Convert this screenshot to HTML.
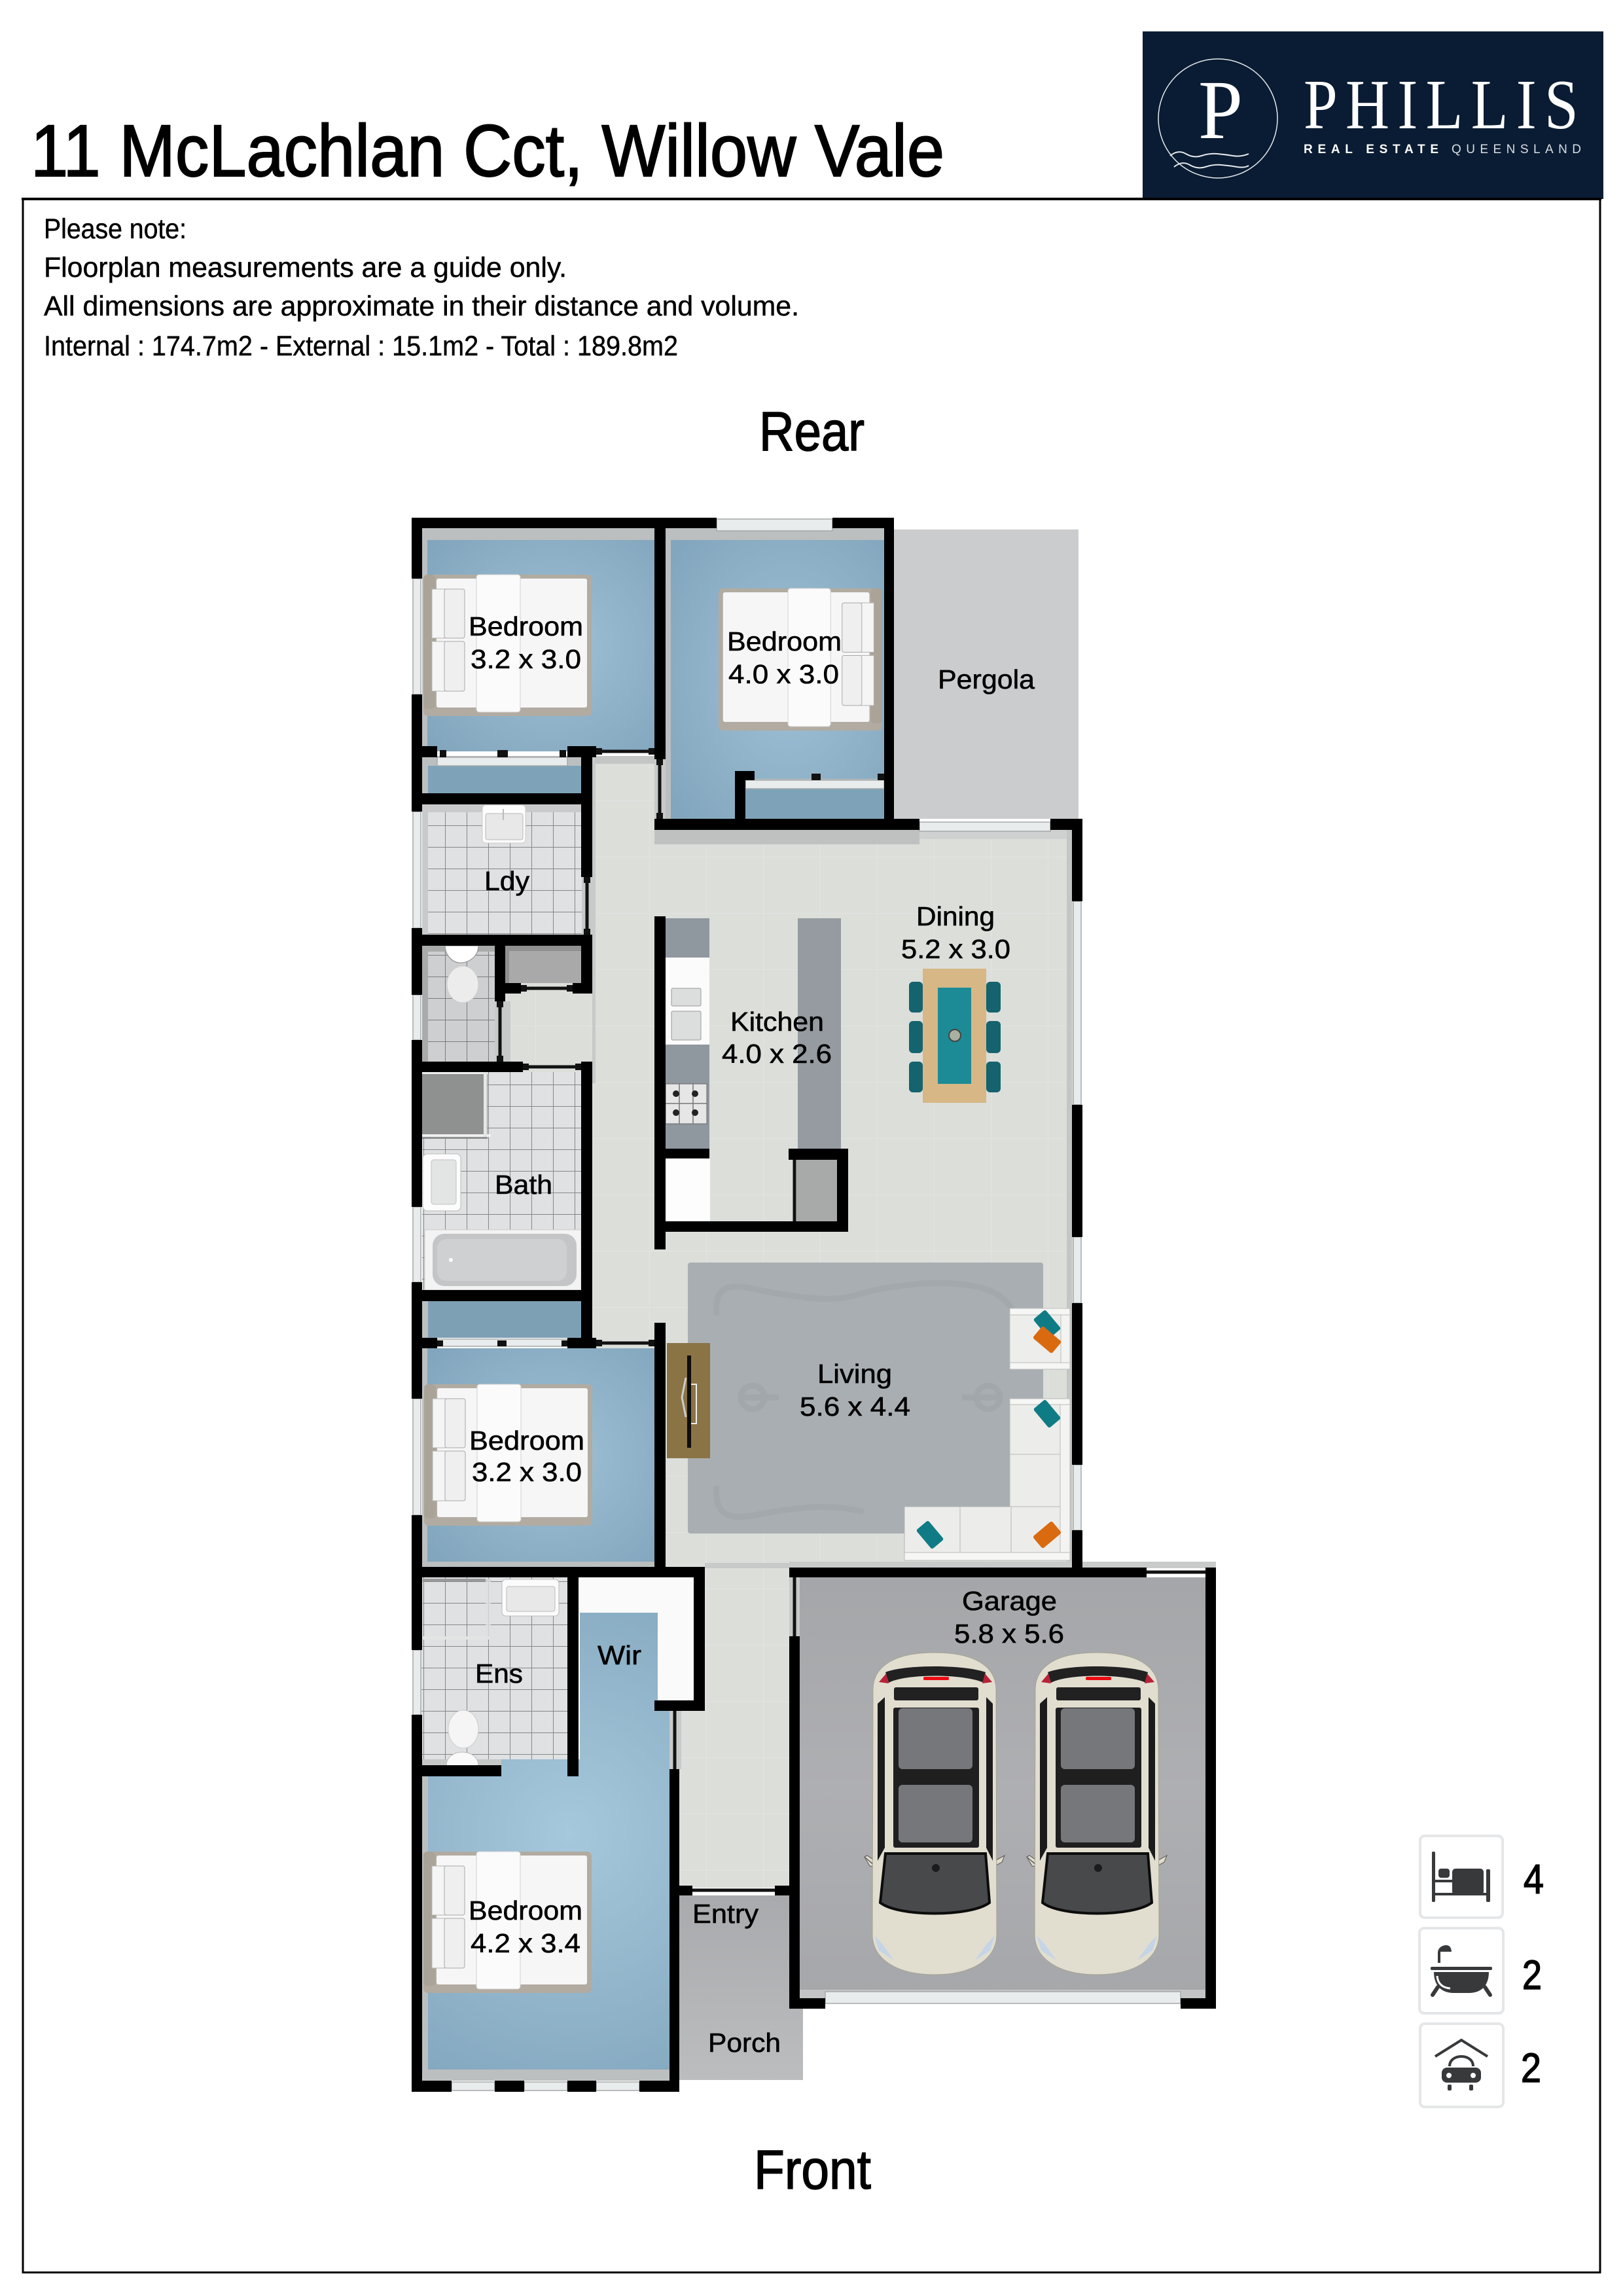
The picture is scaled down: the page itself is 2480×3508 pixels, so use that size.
<!DOCTYPE html>
<html><head><meta charset="utf-8"><style>
html,body{margin:0;padding:0;background:#fff}
svg{display:block}
text{font-family:"Liberation Sans",sans-serif;fill:#000}
.l text{font-size:41px;stroke:#000;stroke-width:.6px}
.n{font-size:43px;stroke:#000;stroke-width:.5px}
.b{stroke:#000;stroke-width:1.5px}
</style></head><body>
<svg width="2480" height="3508" viewBox="0 0 2480 3508" xmlns="http://www.w3.org/2000/svg">
<defs>
<radialGradient id="blue" cx="55%" cy="50%" r="70%"><stop offset="0" stop-color="#a0c1d6"/><stop offset="1" stop-color="#82a6bd"/></radialGradient>
<radialGradient id="blue4" gradientUnits="userSpaceOnUse" cx="870" cy="2800" r="420"><stop offset="0" stop-color="#a6c8dc"/><stop offset="1" stop-color="#84a8bf"/></radialGradient>
<linearGradient id="gar" x1="0" y1="0" x2="0" y2="1"><stop offset="0" stop-color="#a5a6a9"/><stop offset=".5" stop-color="#aeafb2"/><stop offset="1" stop-color="#a6a7aa"/></linearGradient>
<linearGradient id="por" x1="0" y1="0" x2="0" y2="1"><stop offset="0" stop-color="#a9aaad"/><stop offset="1" stop-color="#bcbdbf"/></linearGradient>
<pattern id="tile" width="33" height="33" patternUnits="userSpaceOnUse" patternTransform="translate(20 7)"><rect width="33" height="33" fill="#e0e1e2"/><path d="M0 .5H33M.5 0V33" stroke="#85878a" stroke-width="1"/></pattern>
<pattern id="ftile" width="87" height="86" patternUnits="userSpaceOnUse" patternTransform="translate(35 19)"><rect width="87" height="86" fill="#dcdeda"/><path d="M0 .5H87M.5 0V86" stroke="#e3e4e2" stroke-width="1.2"/></pattern>
<g id="bed">
<rect x="0" y="0" width="257" height="216" rx="7" fill="#b2aba1"/>
<rect x="0" y="0" width="18" height="205" rx="6" fill="#aaa398"/>
<rect x="20" y="6" width="230" height="197" rx="3" fill="#f6f6f7"/>
<rect x="81" y="0" width="67" height="210" rx="4" fill="#fbfbfb" stroke="#d0d0d0"/>
<rect x="13" y="22" width="20" height="75" fill="#f5f5f5" stroke="#b4b4b4"/>
<rect x="32" y="22" width="31" height="75" rx="3" fill="#efefef" stroke="#a8a8a8"/>
<rect x="13" y="102" width="20" height="76" fill="#f5f5f5" stroke="#b4b4b4"/>
<rect x="32" y="102" width="31" height="76" rx="3" fill="#efefef" stroke="#a8a8a8"/>
</g>
<g id="car">
<path d="M-12 312L-8 310L10 322L8 330ZM-12 312L6 327L-4 326ZM202 310L180 322L180 330L198 320Z" fill="#dfdccb" stroke="#555" stroke-width="1"/>
<path d="M1 55C2 20 35 0 95 0C155 0 188 20 189 55L190 430C190 470 150 492 95 492C40 492 0 470 0 430Z" fill="#e1ded0" stroke="#a5a394"/>
<path d="M20 30C50 18 140 18 173 30L170 46C140 32 50 32 25 46Z" fill="#212122"/>
<path d="M10 45L21 32L25 47Z" fill="#b82236"/><path d="M183 45L172 32L168 47Z" fill="#b82236"/>
<rect x="78" y="37" width="39" height="5" rx="2" fill="#ee0a12"/>
<rect x="33" y="53" width="129" height="20" rx="3" fill="#212122"/>
<rect x="32" y="84" width="131" height="214" rx="3" fill="#1f1f20"/>
<rect x="40" y="85" width="113" height="93" rx="6" fill="#76777a"/>
<rect x="40" y="202" width="113" height="88" rx="6" fill="#76777a"/>
<path d="M8 78L19 68V298L8 318Z" fill="#1b1b1c"/><path d="M184 78L174 68V298L184 318Z" fill="#1b1b1c"/>
<path d="M20 307H173L179 382C150 404 40 404 12 382Z" fill="#48494b" stroke="#0c0c0c" stroke-width="4"/>
<circle cx="97" cy="329" r="6" fill="#1b1b1c"/>
<path d="M3 432L15 445L33 470L10 455Z" fill="#c5d4e6"/><path d="M187 432L175 445L157 470L180 455Z" fill="#c5d4e6"/>
</g>
</defs>

<!-- header -->
<g transform="translate(-2 0)">
<rect x="1748" y="48" width="704" height="256" fill="#0a1c33"/>
<circle cx="1863" cy="181" r="91" fill="none" stroke="#e8ebef" stroke-width="1.5"/>
<text x="1833" y="211" font-size="128" style="font-family:'Liberation Serif',serif;fill:#fff" textLength="68" lengthAdjust="spacingAndGlyphs">P</text>
<text transform="translate(1994 196) scale(.86 1)" x="0" y="0" font-size="108" style="font-family:'Liberation Serif',serif;fill:#fff" textLength="488">PHILLIS</text>
<text x="1994" y="234" font-size="19" font-weight="bold" style="fill:#fff" textLength="206">REAL ESTATE</text>
<text x="2220" y="234" font-size="19" style="fill:#d8dde3" textLength="198">QUEENSLAND</text>
<path d="M1790 238q12 -10 24 -3t24 3t24 -3t24 3t24 -3M1796 255q12 -10 24 -3t24 3t24 -3t24 3t18 -2" fill="none" stroke="#e8ebef" stroke-width="2"/>
</g>

<text x="47" y="269" font-size="112" style="stroke:#000;stroke-width:2px" textLength="1396" lengthAdjust="spacingAndGlyphs">11 McLachlan Cct, Willow Vale</text>

<rect x="35" y="304" width="2410" height="3168" fill="none" stroke="#000" stroke-width="3"/>
<rect x="33" y="302" width="2414" height="4" fill="#000"/>

<text x="67" y="364" class="n" textLength="218" lengthAdjust="spacingAndGlyphs">Please note:</text>
<text x="67" y="423" class="n" textLength="799" lengthAdjust="spacingAndGlyphs">Floorplan measurements are a guide only.</text>
<text x="67" y="482" class="n" textLength="1154" lengthAdjust="spacingAndGlyphs">All dimensions are approximate in their distance and volume.</text>
<text x="67" y="543" class="n" textLength="969" lengthAdjust="spacingAndGlyphs">Internal : 174.7m2 - External : 15.1m2 - Total : 189.8m2</text>
<text x="1160" y="688" font-size="84" class="b" textLength="161" lengthAdjust="spacingAndGlyphs">Rear</text>
<text x="1152" y="3344" font-size="84" class="b" textLength="179" lengthAdjust="spacingAndGlyphs">Front</text>

<!-- outdoor -->
<rect x="1366" y="809" width="282" height="442" fill="#cbcccd"/>
<rect x="1038" y="2896" width="189" height="282" fill="url(#por)"/>

<!-- main floor -->
<rect x="889" y="1155" width="128" height="1245" fill="url(#ftile)"/>
<rect x="1000" y="1268" width="640" height="1142" fill="url(#ftile)"/>
<rect x="1060" y="2394" width="146" height="490" fill="url(#ftile)"/>
<rect x="1023" y="2614" width="60" height="270" fill="url(#ftile)"/>
<rect x="756" y="1502" width="149" height="136" fill="url(#ftile)"/>
<rect x="1000" y="1268" width="405" height="22" fill="#bfc1c0"/>
<rect x="1405" y="1268" width="233" height="14" fill="#cfd1d0"/>
<rect x="1630" y="1268" width="8" height="1120" fill="#c4c6c5"/>
<rect x="905" y="1155" width="95" height="12" fill="#c4c6c5"/>
<rect x="905" y="1155" width="5" height="500" fill="#c8cac9"/>
<rect x="1077" y="2388" width="129" height="8" fill="#c8cac9"/>
<rect x="1000" y="1148" width="26" height="104" fill="#c8cac9"/>
<rect x="889" y="1339" width="18" height="89" fill="#c8cac9"/>
<rect x="756" y="1530" width="24" height="92" fill="#c8cac9"/>
<rect x="1206" y="2410" width="18" height="90" fill="#c8cac9"/>
<rect x="1023" y="2614" width="18" height="89" fill="#c8cac9"/>

<!-- bedrooms blue -->
<rect x="645" y="807" width="355" height="341" fill="#bcbfbf"/>
<rect x="653" y="825" width="347" height="323" fill="url(#blue)"/>
<rect x="1017" y="807" width="334" height="444" fill="#bcbfbf"/>
<rect x="1025" y="825" width="326" height="426" fill="url(#blue)"/>
<rect x="645" y="1155" width="244" height="57" fill="#bcbfbf"/>
<rect x="654" y="1170" width="235" height="42" fill="#7ea3b9"/>
<rect x="1139" y="1190" width="212" height="61" fill="#bcbfbf"/>
<rect x="1139" y="1205" width="212" height="46" fill="#7ea3b9"/>
<rect x="645" y="1988" width="244" height="56" fill="#bcbfbf"/>
<rect x="654" y="1988" width="235" height="56" fill="#7ea0b5"/>
<rect x="645" y="2060" width="355" height="334" fill="#bcbfbf"/>
<rect x="653" y="2060" width="347" height="326" fill="url(#blue)"/>
<rect x="644" y="2700" width="379" height="479" fill="#bcbfbf"/>
<path d="M886 2464H1005V2598H1023V3162H654V2700H766V2688H886Z" fill="url(#blue4)"/>

<!-- wet areas -->
<rect x="645" y="1229" width="244" height="199" fill="#c9cacb"/>
<rect x="654" y="1241" width="235" height="187" fill="url(#tile)"/>
<rect x="645" y="1445" width="111" height="177" fill="#a9aaaa"/>
<rect x="654" y="1454" width="102" height="168" fill="url(#tile)"/>
<rect x="654" y="1454" width="102" height="168" fill="#000" opacity=".08"/>
<rect x="645" y="1638" width="244" height="333" fill="url(#tile)"/>
<rect x="644" y="2410" width="223" height="278" fill="url(#tile)"/>
<rect x="645" y="2688" width="121" height="12" fill="#c6c7c7"/>
<rect x="772" y="1445" width="117" height="57" fill="#8f908f"/>
<rect x="778" y="1453" width="111" height="49" fill="#a8a9a8"/>
<rect x="1217" y="1770" width="62" height="96" fill="#a8aaa9"/>

<!-- WIR shelves -->
<rect x="884" y="2410" width="176" height="54" fill="#fafafa"/>
<rect x="1005" y="2464" width="55" height="134" fill="#fafafa"/>

<!-- garage -->
<rect x="1222" y="2410" width="620" height="643" fill="url(#gar)"/>
<rect x="1222" y="3040" width="620" height="13" fill="#c3c4c5"/>
<rect x="1206" y="2386" width="652" height="10" fill="#c9caca"/>

<!-- fixtures: laundry sink -->
<rect x="737" y="1230" width="66" height="58" rx="5" fill="#fdfdfd" stroke="#ccc"/>
<rect x="742" y="1243" width="57" height="40" rx="3" fill="#e8e8e8" stroke="#b8b8b8"/>
<path d="M769 1236v17" stroke="#bbb" stroke-width="2"/>
<!-- toilet wc -->
<path d="M680 1445H731C731 1462 715 1472 702 1471C690 1470 680 1458 680 1445Z" fill="#fff" stroke="#888"/>
<ellipse cx="707" cy="1504" rx="24" ry="28" fill="#ececec" stroke="#ccc"/>
<!-- shower -->
<rect x="645" y="1640" width="100" height="100" fill="#8f9090"/>
<rect x="645" y="1637" width="100" height="4" fill="#f0f0f0"/><rect x="645" y="1733" width="105" height="4" fill="#f0f0f0"/><rect x="739" y="1637" width="5" height="100" fill="#e6e6e6"/>
<!-- basin -->
<rect x="646" y="1763" width="58" height="87" rx="7" fill="#fcfcfc" stroke="#bbb"/>
<rect x="659" y="1772" width="38" height="68" rx="4" fill="#e3e4e4" stroke="#c0c0c0"/>
<!-- tub -->
<rect x="649" y="1879" width="239" height="92" fill="#f3f3f3" stroke="#ccc"/>
<rect x="661" y="1885" width="220" height="80" rx="18" fill="#c4c5c6"/>
<rect x="668" y="1893" width="198" height="64" rx="14" fill="#cfd0d1"/>
<circle cx="689" cy="1925" r="3" fill="#fff"/>
<!-- ens fixtures -->
<rect x="642" y="2412" width="108" height="4" fill="#999"/>
<rect x="642" y="2412" width="4" height="92" fill="#ddd"/><rect x="640" y="2500" width="110" height="5" fill="#e4e4e4"/><rect x="742" y="2412" width="8" height="92" fill="#e0e0e0" opacity=".8"/>
<rect x="767" y="2413" width="87" height="56" rx="6" fill="#fbfbfb" stroke="#bbb"/>
<rect x="774" y="2424" width="74" height="38" rx="3" fill="#e8e8e8" stroke="#bbb"/>
<ellipse cx="708" cy="2642" rx="23" ry="29" fill="#f5f5f5" stroke="#ccc"/>
<path d="M682 2698C682 2670 731 2670 731 2698Z" fill="#f9f9f9" stroke="#bbb"/>

<!-- kitchen -->
<rect x="1017" y="1403" width="67" height="352" fill="#8f979f"/>
<rect x="1017" y="1463" width="67" height="133" fill="#fbfbfb"/>
<rect x="1026" y="1510" width="45" height="27" rx="2" fill="#dcdddd" stroke="#999"/>
<rect x="1026" y="1545" width="45" height="44" rx="2" fill="#dcdddd" stroke="#999"/>
<rect x="1017" y="1656" width="63" height="61" fill="#e6e6e6" stroke="#666"/>
<path d="M1038 1656V1717M1059 1656V1717M1017 1686H1080" stroke="#777" stroke-width="1.5"/>
<g fill="#222"><circle cx="1033" cy="1671" r="5"/><circle cx="1062" cy="1671" r="5"/><circle cx="1033" cy="1700" r="5"/><circle cx="1062" cy="1700" r="5"/></g>
<rect x="1015" y="1770" width="70" height="96" fill="#fdfdfd"/>
<rect x="1219" y="1403" width="66" height="352" fill="#959ba1"/>

<!-- rug -->
<rect x="1051" y="1929" width="543" height="414" rx="4" fill="#a9aeb2"/>
<g fill="none" stroke="#a1a6aa" stroke-width="9" opacity=".8">
<path d="M1095 2010C1090 1950 1130 1965 1180 1975C1240 1985 1280 1990 1320 1975C1380 1960 1530 1940 1550 2010"/>
<path d="M1095 2270C1090 2330 1130 2320 1180 2310C1240 2300 1280 2300 1320 2310"/>
<path d="M1130 2135h60M1470 2135h60"/>
<circle cx="1150" cy="2135" r="18"/><circle cx="1510" cy="2135" r="18"/>
</g>
<!-- TV -->
<rect x="1019" y="2052" width="66" height="176" fill="#8a7345"/>
<rect x="1050" y="2071" width="6" height="141" fill="#0d0d0d"/>
<path d="M1056 2115h8v60h-8" fill="none" stroke="#eee" stroke-width="2"/>
<path d="M1048 2105l-6 30 6 30" fill="none" stroke="#ccc" stroke-width="3"/>
<!-- dining -->
<g fill="#14636e">
<rect x="1389" y="1500" width="21" height="47" rx="6"/><rect x="1389" y="1560" width="21" height="49" rx="6"/><rect x="1389" y="1622" width="21" height="47" rx="6"/>
<rect x="1507" y="1500" width="22" height="47" rx="6"/><rect x="1507" y="1560" width="22" height="49" rx="6"/><rect x="1507" y="1622" width="22" height="47" rx="6"/>
</g>
<rect x="1410" y="1480" width="97" height="205" fill="#d6b785"/>
<rect x="1433" y="1509" width="51" height="147" fill="#1c8b96"/>
<circle cx="1459" cy="1582" r="9" fill="#aab0a0" stroke="#444" stroke-width="2"/>
<!-- sofa -->
<rect x="1543" y="1999" width="92" height="92" fill="#ededeb" stroke="#bbb"/>
<rect x="1543" y="1999" width="92" height="10" fill="#f6f6f5" stroke="#bbb"/><rect x="1543" y="2082" width="92" height="10" fill="#f6f6f5" stroke="#bbb"/>
<rect x="1621" y="2009" width="14" height="73" fill="#f3f3f2" stroke="#bbb"/>
<path d="M1543 2137H1635V2384H1382V2302H1543Z" fill="#ecedeb" stroke="#b5b5b5"/>
<rect x="1543" y="2137" width="92" height="9" fill="#f6f6f5" stroke="#bbb"/>
<rect x="1620" y="2146" width="15" height="228" fill="#f3f3f2" stroke="#bbb"/>
<rect x="1382" y="2372" width="253" height="12" fill="#f6f6f5" stroke="#bbb"/>
<path d="M1543 2222H1620M1543 2302H1620M1467 2302V2372M1545 2302V2372" stroke="#c9c9c7" stroke-width="1.5"/>
<g fill="#0f7c85">
<rect x="-19" y="-12" width="38" height="24" rx="3" transform="translate(1600 2023) rotate(50)"/>
<rect x="-19" y="-12" width="38" height="24" rx="3" transform="translate(1600 2160) rotate(50)"/>
<rect x="-19" y="-12" width="38" height="24" rx="3" transform="translate(1421 2345) rotate(50)"/>
</g>
<g fill="#d96a10">
<rect x="-19" y="-12" width="38" height="24" rx="3" transform="translate(1600 2047) rotate(40)"/>
<rect x="-19" y="-12" width="38" height="24" rx="3" transform="translate(1600 2345) rotate(-40)"/>
</g>

<!-- beds -->
<use href="#bed" x="647" y="878"/>
<use href="#bed" transform="translate(1348 899) scale(-.973 1.005)"/>
<use href="#bed" x="648" y="2115"/>
<use href="#bed" x="647" y="2829"/>

<!-- cars -->
<use href="#car" x="1333" y="2525"/>
<use href="#car" x="1581" y="2525"/>

<!-- windows -->
<g fill="#e9ecec" stroke="#a5a9a9" stroke-width="1.5">
<rect x="1095" y="793" width="177" height="18"/>
<rect x="631" y="884" width="12" height="177"/>
<rect x="631" y="1240" width="12" height="178"/>
<rect x="631" y="1520" width="12" height="69"/>
<rect x="631" y="1844" width="12" height="115"/>
<rect x="631" y="2137" width="12" height="178"/>
<rect x="631" y="2521" width="12" height="99"/>
<rect x="1640" y="1377" width="12" height="311"/>
<rect x="1640" y="1890" width="12" height="101"/>
<rect x="1640" y="2238" width="12" height="100"/>
<rect x="1405" y="1256" width="200" height="14"/>
<rect x="690" y="3181" width="66" height="13"/><rect x="801" y="3181" width="66" height="13"/><rect x="911" y="3181" width="66" height="13"/>
<rect x="1261" y="3043" width="543" height="18"/>
<rect x="668" y="1157" width="199" height="13"/>
<rect x="1139" y="1192" width="212" height="13"/>
<rect x="668" y="2046" width="199" height="11"/>
</g>

<!-- doors -->
<g stroke="#111" stroke-width="5" fill="none">
<path d="M911 1148H1000"/><path d="M911 2052H1000"/>
<path d="M1008 1160V1251"/><path d="M897 1339V1428"/>
<path d="M796 1510H875"/><path d="M764 1530V1622"/><path d="M799 1630H888"/>
<path d="M1214 1770V1866"/><path d="M1031 2614V2703"/>
<path d="M1058 2888H1184"/><path d="M1214 2410V2500"/><path d="M1752 2402H1842"/>
</g>
<g fill="#111">
<rect x="911" y="1143" width="9" height="10"/><rect x="991" y="1143" width="9" height="10"/>
<rect x="911" y="2047" width="9" height="10"/><rect x="991" y="2047" width="9" height="10"/>
<rect x="1003" y="1160" width="10" height="9"/><rect x="1003" y="1242" width="10" height="9"/>
<rect x="892" y="1340" width="10" height="9"/><rect x="892" y="1419" width="10" height="9"/>
<rect x="796" y="1505" width="9" height="10"/><rect x="866" y="1505" width="9" height="10"/>
<rect x="759" y="1530" width="10" height="9"/><rect x="759" y="1613" width="10" height="9"/>
<rect x="799" y="1625" width="9" height="10"/><rect x="879" y="1625" width="9" height="10"/>
<rect x="672" y="1146" width="10" height="11"/><rect x="760" y="1146" width="16" height="11"/><rect x="855" y="1146" width="10" height="11"/>
<rect x="1139" y="1182" width="10" height="10"/><rect x="1240" y="1182" width="14" height="10"/><rect x="1341" y="1182" width="10" height="10"/>
<rect x="668" y="2048" width="9" height="9"/><rect x="760" y="2048" width="14" height="9"/><rect x="858" y="2048" width="9" height="9"/>
</g>

<!-- walls -->
<g fill="#000">
<rect x="629" y="791" width="466" height="16"/><rect x="1272" y="791" width="94" height="16"/>
<rect x="629" y="791" width="16" height="93"/><rect x="629" y="1061" width="16" height="179"/><rect x="629" y="1418" width="16" height="102"/><rect x="629" y="1589" width="16" height="255"/><rect x="629" y="1959" width="16" height="178"/><rect x="629" y="2315" width="16" height="206"/><rect x="629" y="2620" width="16" height="576"/>
<rect x="1000" y="791" width="17" height="369"/><rect x="1000" y="1251" width="405" height="17"/>
<rect x="1351" y="791" width="15" height="477"/>
<rect x="1123" y="1178" width="16" height="73"/><rect x="1139" y="1178" width="14" height="14"/>
<rect x="1000" y="1400" width="17" height="509"/><rect x="1000" y="2021" width="17" height="389"/>
<rect x="1638" y="1251" width="16" height="126"/><rect x="1605" y="1251" width="49" height="17"/>
<rect x="1638" y="1688" width="16" height="202"/><rect x="1638" y="1991" width="16" height="247"/><rect x="1638" y="2338" width="16" height="72"/>
<rect x="629" y="1140" width="39" height="17"/><rect x="867" y="1140" width="44" height="17"/>
<rect x="629" y="1212" width="276" height="17"/><rect x="888" y="1140" width="17" height="200"/>
<rect x="629" y="1428" width="276" height="17"/><rect x="888" y="1428" width="17" height="90"/>
<rect x="756" y="1502" width="40" height="16"/><rect x="875" y="1502" width="30" height="16"/>
<rect x="756" y="1445" width="16" height="85"/>
<rect x="629" y="1622" width="170" height="16"/><rect x="888" y="1622" width="17" height="438"/>
<rect x="629" y="1971" width="276" height="17"/>
<rect x="629" y="2044" width="39" height="16"/><rect x="867" y="2044" width="44" height="16"/>
<rect x="1017" y="1755" width="67" height="15"/>
<rect x="1000" y="1866" width="296" height="16"/><rect x="1279" y="1755" width="17" height="127"/><rect x="1205" y="1755" width="91" height="17"/>
<rect x="629" y="2394" width="448" height="16"/>
<rect x="1060" y="2394" width="17" height="220"/><rect x="1000" y="2598" width="77" height="16"/>
<rect x="867" y="2410" width="17" height="304"/>
<rect x="629" y="2697" width="137" height="17"/>
<rect x="1023" y="2703" width="15" height="493"/>
<rect x="629" y="3179" width="61" height="17"/><rect x="756" y="3179" width="45" height="17"/><rect x="867" y="3179" width="44" height="17"/><rect x="977" y="3179" width="61" height="17"/>
<rect x="1023" y="2881" width="35" height="15"/><rect x="1184" y="2881" width="22" height="15"/>
<rect x="1206" y="2395" width="546" height="15"/><rect x="1206" y="2500" width="16" height="569"/>
<rect x="1842" y="2395" width="16" height="674"/>
<rect x="1206" y="3053" width="55" height="16"/><rect x="1804" y="3053" width="54" height="16"/>
</g>

<!-- labels -->
<g class="l">
<text x="716" y="971" textLength="175" lengthAdjust="spacingAndGlyphs">Bedroom</text>
<text x="719" y="1021" textLength="169" lengthAdjust="spacingAndGlyphs">3.2 x 3.0</text>
<text x="1111" y="994" textLength="175" lengthAdjust="spacingAndGlyphs">Bedroom</text>
<text x="1113" y="1044" textLength="169" lengthAdjust="spacingAndGlyphs">4.0 x 3.0</text>
<text x="1433" y="1052" textLength="148" lengthAdjust="spacingAndGlyphs">Pergola</text>
<text x="740" y="1360" textLength="69" lengthAdjust="spacingAndGlyphs">Ldy</text>
<text x="1400" y="1414" textLength="120" lengthAdjust="spacingAndGlyphs">Dining</text>
<text x="1377" y="1464" textLength="167" lengthAdjust="spacingAndGlyphs">5.2 x 3.0</text>
<text x="1116" y="1575" textLength="143" lengthAdjust="spacingAndGlyphs">Kitchen</text>
<text x="1103" y="1624" textLength="168" lengthAdjust="spacingAndGlyphs">4.0 x 2.6</text>
<text x="756" y="1824" textLength="88" lengthAdjust="spacingAndGlyphs">Bath</text>
<text x="1249" y="2113" textLength="114" lengthAdjust="spacingAndGlyphs">Living</text>
<text x="1222" y="2163" textLength="169" lengthAdjust="spacingAndGlyphs">5.6 x 4.4</text>
<text x="717" y="2215" textLength="176" lengthAdjust="spacingAndGlyphs">Bedroom</text>
<text x="721" y="2263" textLength="168" lengthAdjust="spacingAndGlyphs">3.2 x 3.0</text>
<text x="726" y="2571" textLength="73" lengthAdjust="spacingAndGlyphs">Ens</text>
<text x="913" y="2543" textLength="67" lengthAdjust="spacingAndGlyphs">Wir</text>
<text x="1470" y="2460" textLength="145" lengthAdjust="spacingAndGlyphs">Garage</text>
<text x="1458" y="2510" textLength="168" lengthAdjust="spacingAndGlyphs">5.8 x 5.6</text>
<text x="716" y="2933" textLength="174" lengthAdjust="spacingAndGlyphs">Bedroom</text>
<text x="719" y="2983" textLength="168" lengthAdjust="spacingAndGlyphs">4.2 x 3.4</text>
<text x="1058" y="2938" textLength="101" lengthAdjust="spacingAndGlyphs">Entry</text>
<text x="1082" y="3135" textLength="111" lengthAdjust="spacingAndGlyphs">Porch</text>
</g>

<!-- icons -->
<g fill="#fff" stroke="#e4e6e8" stroke-width="4">
<rect x="2170" y="2805" width="126" height="125" rx="7"/>
<rect x="2169" y="2946" width="128" height="130" rx="7"/>
<rect x="2170" y="3092" width="127" height="127" rx="7"/>
</g>
<g fill="#38393b">
<rect x="2188" y="2829" width="5" height="77" rx="2"/><rect x="2271" y="2856" width="6" height="50" rx="2"/>
<rect x="2193" y="2892" width="78" height="4"/><rect x="2219" y="2855" width="48" height="40" rx="5"/>
<rect x="2198" y="2855" width="17" height="14" rx="4"/><rect x="2193" y="2872" width="26" height="4"/>
<path d="M2197 2999V2984C2197 2975 2205 2972 2210 2972C2216 2972 2218 2978 2218 2982H2201V2999Z"/>
<rect x="2186" y="3005" width="94" height="5" rx="2"/>
<path d="M2191 3013H2275C2275 3035 2262 3045 2245 3045H2221C2204 3045 2191 3035 2191 3013Z"/>
<path d="M2197 3036L2189 3048M2269 3036L2277 3048" stroke="#38393b" stroke-width="6" stroke-linecap="round"/>
<path d="M2196 3019C2197 3032 2205 3037 2216 3038" fill="none" stroke="#fff" stroke-width="3"/>
<rect x="2203" y="3159" width="60" height="23" rx="8"/>
<path d="M2193 3142L2233 3117L2273 3142" fill="none" stroke="#38393b" stroke-width="4"/>
<path d="M2215 3157C2215 3137 2251 3137 2251 3157" fill="none" stroke="#38393b" stroke-width="4"/>
<circle cx="2214" cy="3171" r="4" fill="#fff"/><circle cx="2251" cy="3171" r="4" fill="#fff"/>
<rect x="2212" y="3185" width="6" height="9" rx="2"/><rect x="2245" y="3185" width="6" height="9" rx="2"/>
</g>
<text x="2328" y="2893" font-size="63" class="b" textLength="31" lengthAdjust="spacingAndGlyphs">4</text>
<text x="2326" y="3039" font-size="63" class="b" textLength="30" lengthAdjust="spacingAndGlyphs">2</text>
<text x="2324" y="3181" font-size="63" class="b" textLength="31" lengthAdjust="spacingAndGlyphs">2</text>
</svg>
</body></html>
